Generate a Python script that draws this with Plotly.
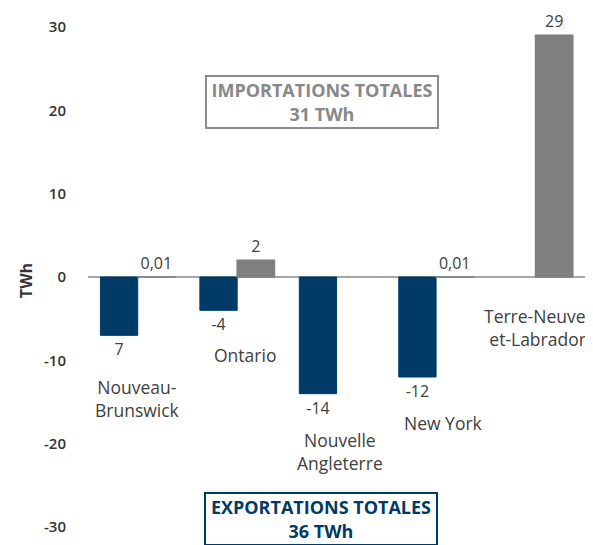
import plotly.graph_objects as go

# Échanges d'électricité par région (TWh)
regions = ["Nouveau-Brunswick", "Ontario", "Nouvelle Angleterre", "New York", "Terre-Neuve-et-Labrador"]
region_labels = ["Nouveau-<br>Brunswick", "Ontario", "Nouvelle<br>Angleterre", "New York", "Terre-Neuve-<br>et-Labrador"]
exports = [-7, -4, -14, -12, None]
exports_text = ["7", "-4", "-14", "-12", ""]
imports = [0.01, 2, None, 0.01, 29]
imports_text = ["0,01", "2", "", "0,01", "29"]
y_ticks = [-30, -20, -10, 0, 10, 20, 30]
y_tick_text = ["-30", "-20", "-10", "0", "10", "20", "30"]

BLUE = "#003a66"
GREY = "#7f7f7f"
TEXT = "#404040"
FONT = "Open Sans"

fig = go.Figure()
fig.add_trace(go.Bar(
    x=regions, y=exports, name="Exportations",
    marker=dict(color=BLUE, line=dict(color=BLUE, width=1)),
    text=exports_text, textposition="outside", cliponaxis=False,
    textfont=dict(family=FONT, size=16, color=TEXT),
))
fig.add_trace(go.Bar(
    x=regions, y=imports, name="Importations",
    marker=dict(color=GREY, line=dict(color=GREY, width=1.5)),
    text=imports_text, textposition="outside", cliponaxis=False,
    textfont=dict(family=FONT, size=16, color=TEXT),
))

# Noms des régions, placés à la main sous ou près des barres
label_y = [-14.6, -9.4, -20.9, -17.5, -6.0]
label_dx = [0, 8, 3, 7, 2]
for name, text, ly, dx in zip(regions, region_labels, label_y, label_dx):
    fig.add_annotation(
        x=name, y=ly, text=text, showarrow=False, xshift=dx,
        font=dict(family=FONT, size=17.5, color=TEXT),
    )

# Encadrés des totaux
fig.add_annotation(
    xref="paper", x=0.464, y=21.0,
    text="<b>IMPORTATIONS TOTALES<br>31 TWh</b>", showarrow=False,
    font=dict(family=FONT, size=18, color="#888888"),
    bordercolor="#8c8c8c", borderwidth=2, borderpad=1, bgcolor="white",
    width=228, height=48,
)
fig.add_annotation(
    xref="paper", x=0.462, y=-29.0,
    text="<b>EXPORTATIONS TOTALES<br>36 TWh</b>", showarrow=False,
    font=dict(family=FONT, size=18, color=BLUE),
    bordercolor=BLUE, borderwidth=2, borderpad=1, bgcolor="white",
    width=228, height=48,
)

fig.update_layout(
    width=593, height=545,
    margin=dict(l=80, r=8, t=0, b=0),
    barmode="group", bargap=0.25, bargroupgap=0,
    showlegend=False,
    plot_bgcolor="white", paper_bgcolor="white",
    font=dict(family=FONT, color=TEXT),
)
fig.update_xaxes(showticklabels=False, showgrid=False, showline=False, ticks="")
fig.update_yaxes(
    range=[-33.12, 32.28], tickvals=y_ticks, ticktext=y_tick_text, showgrid=False,
    zeroline=True, zerolinecolor="#a6a6a6", zerolinewidth=2,
    ticklabelstandoff=21,
    tickfont=dict(family=FONT, size=15, color="#333333", weight=600),
    title=dict(text="<b>TWh</b>", font=dict(family=FONT, size=16, color="#333333"), standoff=7),
)

fig.write_html("out.html")
